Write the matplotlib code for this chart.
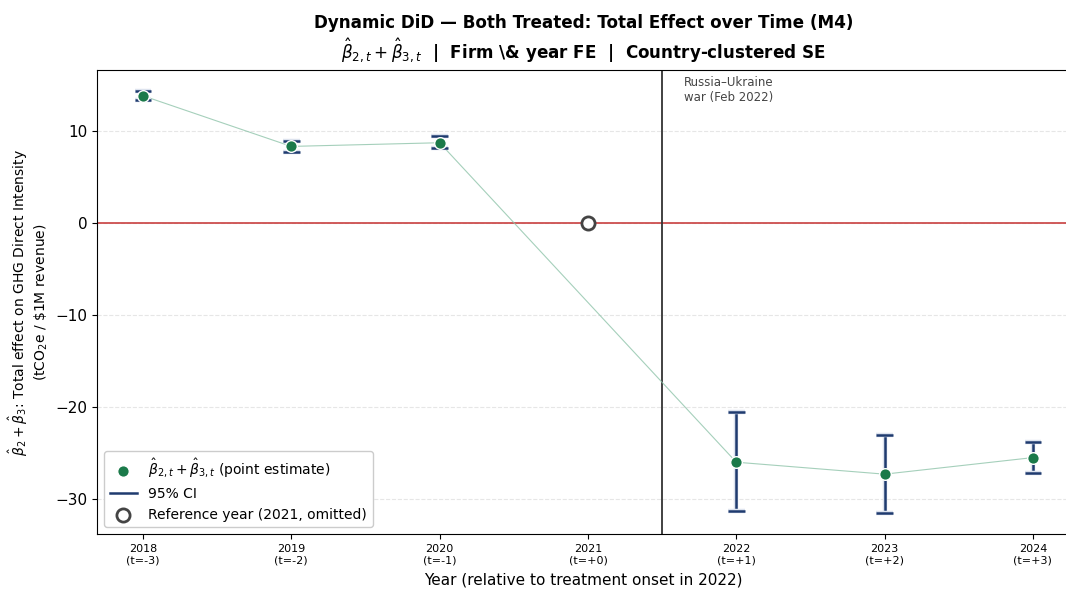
import matplotlib
matplotlib.use("Agg")
import matplotlib.pyplot as plt
import matplotlib.patheffects as pe
import numpy as np

years = [2018, 2019, 2020, 2021, 2022, 2023, 2024]
rel = ["t=-3", "t=-2", "t=-1", "t=+0", "t=+1", "t=+2", "t=+3"]
est_years = [2018, 2019, 2020, 2022, 2023, 2024]
estimates = [13.8, 8.3, 8.7, -26.0, -27.3, -25.5]
ci_low = [13.3, 7.7, 8.1, -31.3, -31.5, -27.2]
ci_high = [14.3, 8.9, 9.4, -20.6, -23.0, -23.8]
ref_year = 2021
ref_value = 0.0

fig = plt.figure(figsize=(10.66, 5.89), dpi=100)
ax = fig.add_axes([97/1066, (589-534)/589, (1070-97)/1066, (534-70)/589])

blue = "#1f3b6f"
green = "#1b7a4a"

ax.plot(est_years, estimates, color="#8fc4aa", lw=0.8, alpha=0.8, zorder=2)

ax.axhline(0, color="#c94040", lw=1.2, zorder=1)
ax.axvline(2021.5, color="#333333", lw=1.3, zorder=1)

est = np.array(estimates)
yerr = np.vstack([est - np.array(ci_low), np.array(ci_high) - est])
eb = ax.errorbar(est_years, estimates, yerr=yerr, fmt="none", ecolor=blue,
                 elinewidth=1.8, capsize=6, capthick=1.8, zorder=3)
for art in eb.lines[1] + eb.lines[2]:
    art.set_path_effects([pe.Stroke(linewidth=3.2, foreground="#dde3ee"), pe.Normal()])

ax.scatter(est_years, estimates, s=70, color=green, edgecolor="white",
           linewidth=1.0, zorder=4,
           label=r"$\hat{\beta}_{2,t}+\hat{\beta}_{3,t}$ (point estimate)")
ax.plot([], [], color=blue, lw=1.8, label="95% CI")
ax.scatter([ref_year], [ref_value], s=90, facecolor="white", edgecolor="#444444",
           linewidth=2.0, zorder=5, label="Reference year (2021, omitted)")

ax.text(2021.65, 16.0, "Russia–Ukraine\nwar (Feb 2022)", fontsize=8.5,
        color="#444444", va="top", ha="left")

ax.set_xlim(2017.69, 2024.25)
ax.set_ylim(-33.8, 16.6)
ax.set_yticks([-30, -20, -10, 0, 10])
ax.set_xticks(years)
ax.set_xticklabels([f"{y}\n({r})" for y, r in zip(years, rel)], fontsize=8)
ax.tick_params(axis="y", labelsize=11)
ax.grid(axis="y", linestyle="--", color="#e6e6e6", lw=0.8)
ax.set_axisbelow(True)

ax.set_xlabel("Year (relative to treatment onset in 2022)", fontsize=11, labelpad=5)
ax.set_ylabel(r"$\hat{\beta}_2+\hat{\beta}_3$: Total effect on GHG Direct Intensity"
              "\n" r"(tCO$_2$e / \$1M revenue)", fontsize=10)
ax.set_title("Dynamic DiD — Both Treated: Total Effect over Time (M4)\n"
             r"$\hat{\beta}_{2,t}+\hat{\beta}_{3,t}$  |  Firm \& year FE  |  Country-clustered SE",
             fontsize=12.1, fontweight="bold", pad=8)

ax.legend(loc="lower left", fontsize=10, framealpha=1.0, edgecolor="#cccccc")

fig.savefig("out.png", dpi=100)
